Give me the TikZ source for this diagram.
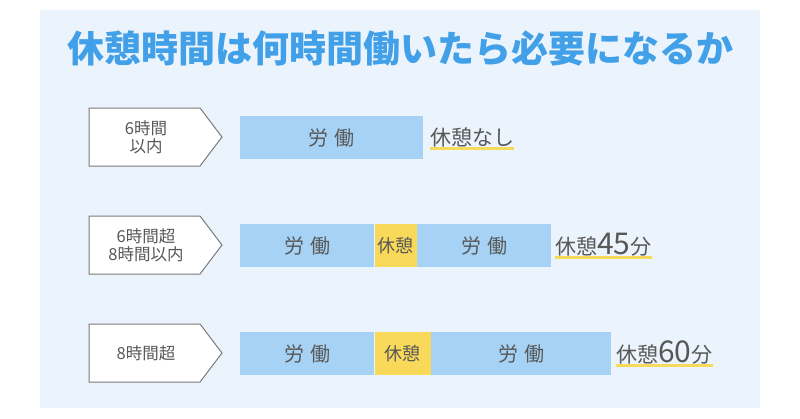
\documentclass[tikz,border=0pt]{standalone}
\usepackage{fontspec}
\setmainfont{Noto Sans CJK JP}

\definecolor{panelbg}{HTML}{EBF4FC}
\definecolor{titleblue}{HTML}{42A0E8}
\definecolor{workblue}{HTML}{A5D2F5}
\definecolor{restyellow}{HTML}{F8D95A}
\definecolor{textgray}{HTML}{585858}
\definecolor{edgegray}{HTML}{7A7A7A}

\begin{document}
\begin{tikzpicture}[x=1pt,y=-1pt,
  work/.style={fill=workblue, text=textgray, minimum height=43pt, inner sep=0pt,
    anchor=west, font=\fontsize{20}{20}\selectfont},
  rest/.style={fill=restyellow, text=textgray, minimum height=43pt, inner sep=0pt,
    anchor=west, font=\fontsize{18}{18}\selectfont},
  tab/.style={draw=edgegray, fill=white, line width=1pt},
  tabtext/.style={text=textgray, align=center, font=\fontsize{16.5}{18}\selectfont},
  result/.style={text=textgray, inner sep=0pt, anchor=base west,
    font=\fontsize{21}{21}\selectfont},
  underline/.style={restyellow, line width=3pt}]

  % Page and panel
  \useasboundingbox (0,0) rectangle (800,418);
  \fill[panelbg] (40,10) rectangle (760,408);

  % Title
  \node[text=titleblue, font=\fontsize{37}{37}\selectfont\bfseries] (title) at (400,48)
    {休憩時間は何時間働いたら必要になるか};

  % Row 1: up to 6 hours
  \draw[tab] (89,108) -- (200,108) -- (222,137) -- (200,166) -- (89,166) -- cycle;
  \node[tabtext] (c1) at (146,137) {6時間\\以内};
  \node[work, minimum width=183pt] (w11) at (240,137.5) {労\hspace{.3em}働};
  \node[result] (r1) at (430,145) {休憩なし};
  \draw[underline] ([yshift=-3.5pt]r1.base west) -- ([yshift=-3.5pt]r1.base east);

  % Row 2: over 6 up to 8 hours
  \draw[tab] (89,216) -- (200,216) -- (222,245) -- (200,274) -- (89,274) -- cycle;
  \node[tabtext] (c2) at (146,245) {6時間超\\8時間以内};
  \node[work, minimum width=134pt] (w21) at (240,245.5) {労\hspace{.3em}働};
  \node[rest, minimum width=42pt] (b2) at (w21.east) {休憩};
  \node[work, minimum width=134pt] (w22) at (b2.east) {労\hspace{.3em}働};
  \node[result] (r2) at (555,254) {休憩{\fontsize{30}{30}\selectfont 45}分};
  \draw[underline] ([yshift=-3pt]r2.base west) -- ([yshift=-3pt]r2.base east);

  % Row 3: over 8 hours
  \draw[tab] (89,324) -- (200,324) -- (222,353) -- (200,382) -- (89,382) -- cycle;
  \node[tabtext] (c3) at (146,353) {8時間超};
  \node[work, minimum width=134pt] (w31) at (240,353.5) {労\hspace{.3em}働};
  \node[rest, minimum width=56pt] (b3) at (w31.east) {休憩};
  \node[work, minimum width=180pt] (w32) at (b3.east) {労\hspace{.3em}働};
  \node[result] (r3) at (616,362) {休憩{\fontsize{30}{30}\selectfont 60}分};
  \draw[underline] ([yshift=-3pt]r3.base west) -- ([yshift=-3pt]r3.base east);

\end{tikzpicture}
\end{document}
